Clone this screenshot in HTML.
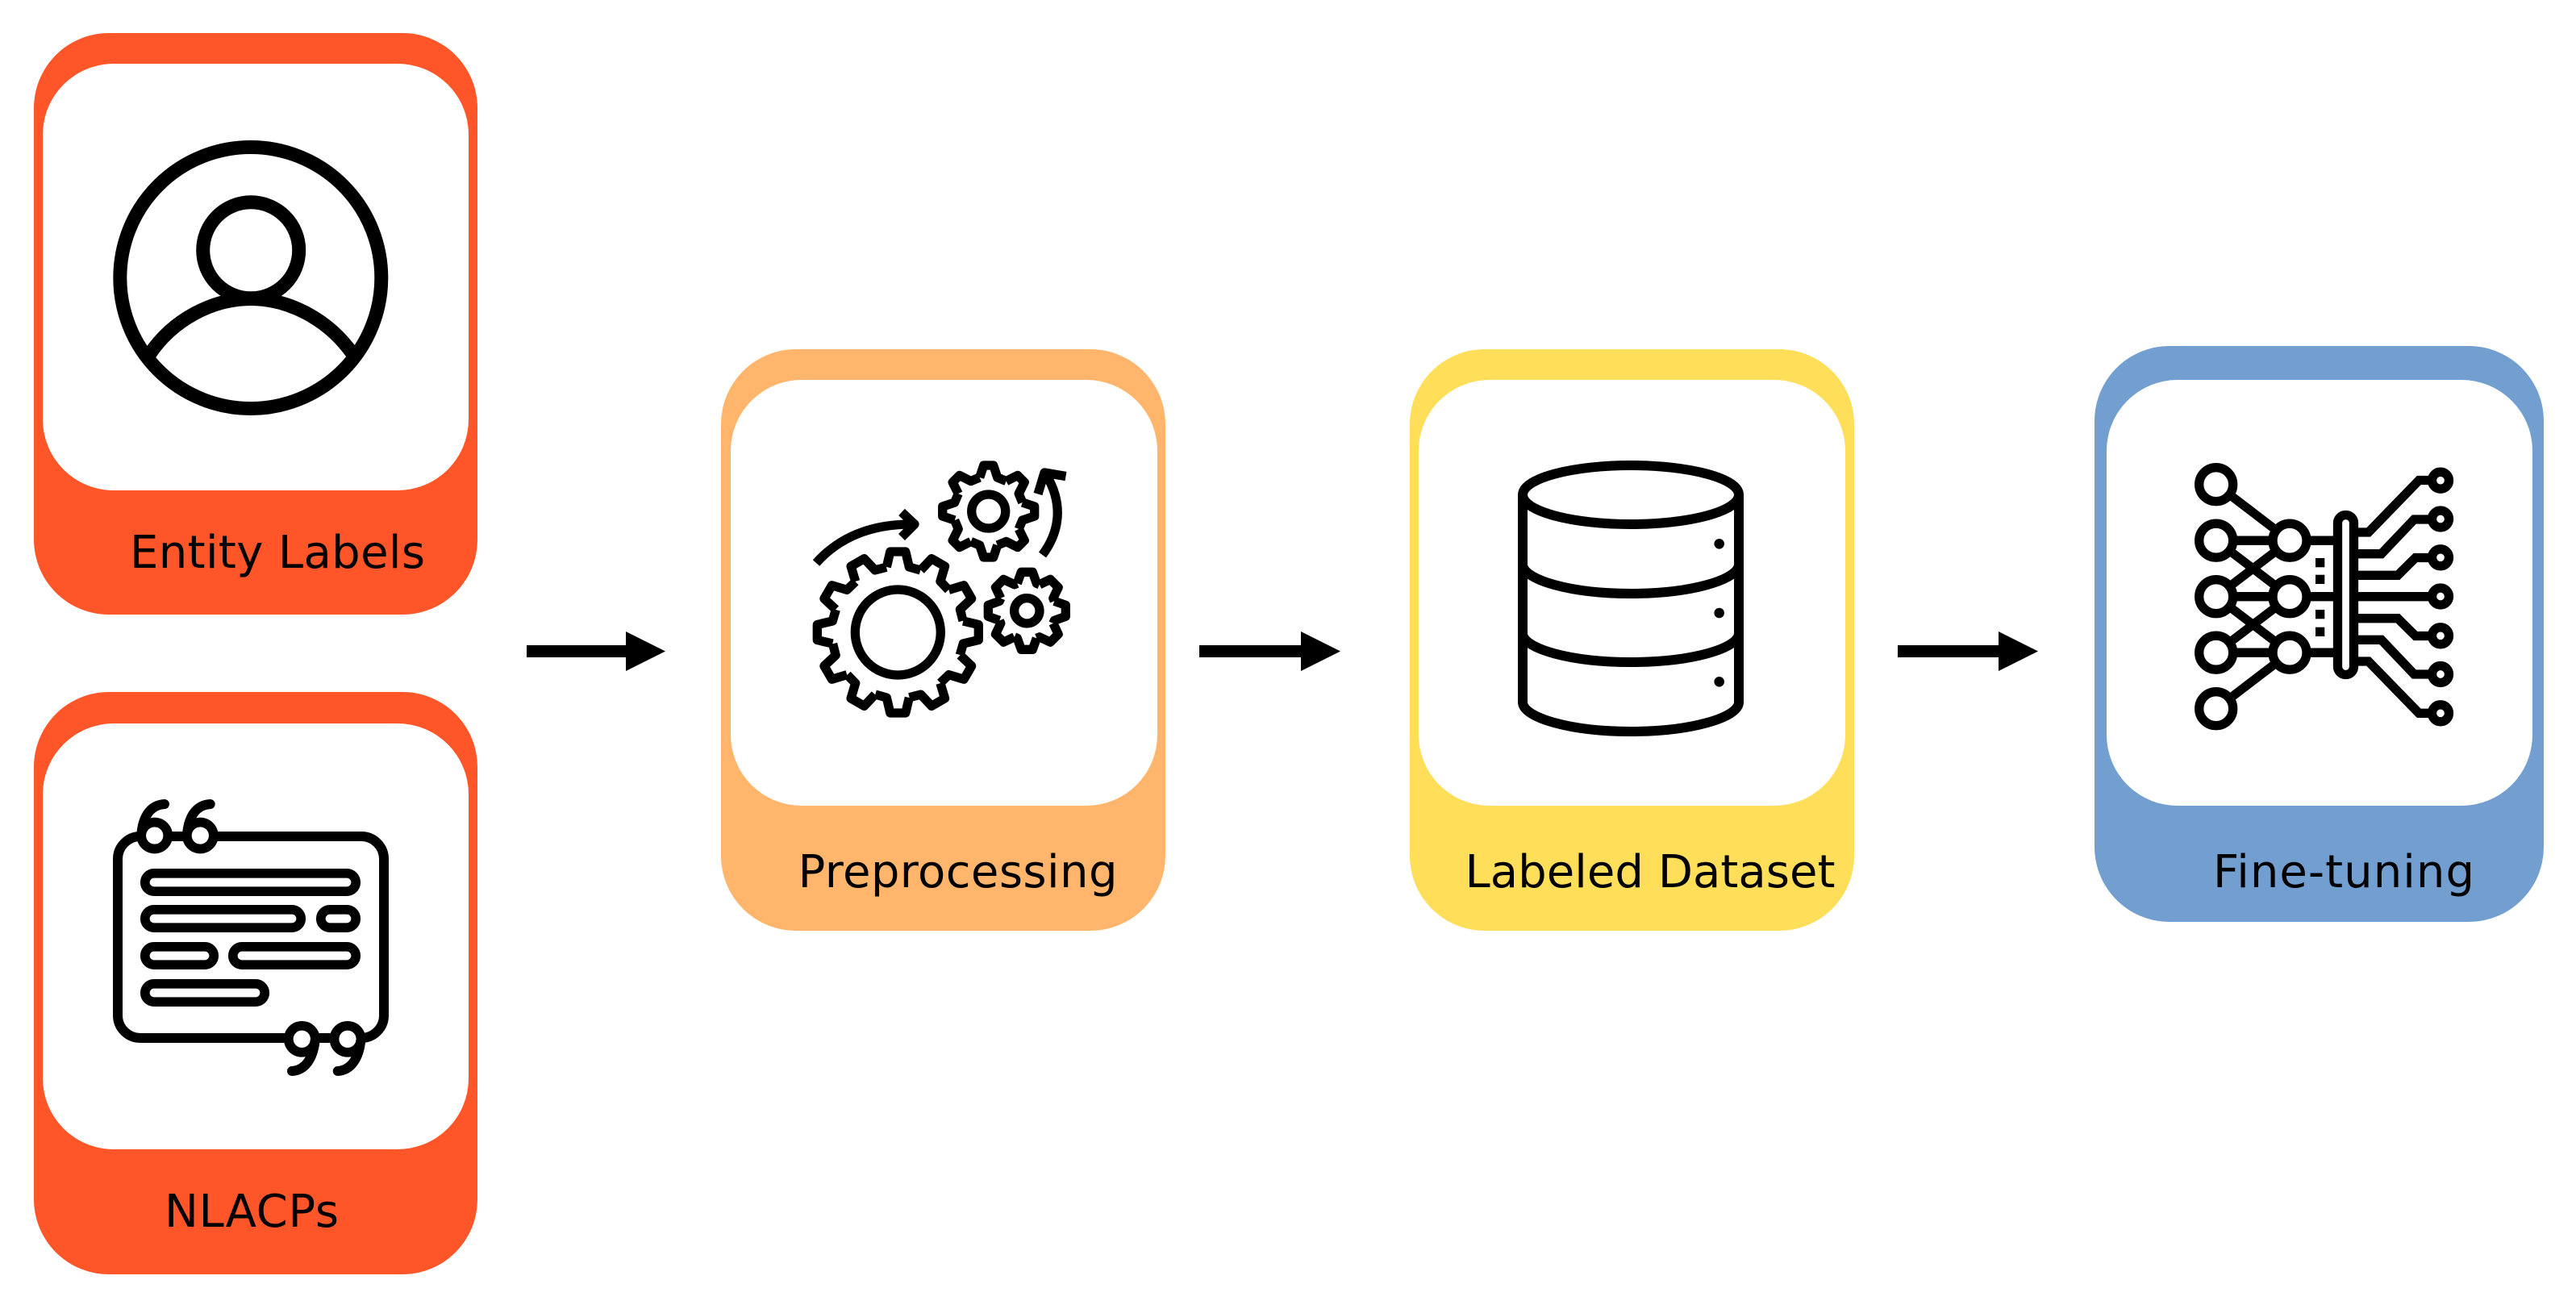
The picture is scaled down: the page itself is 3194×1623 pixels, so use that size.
<!DOCTYPE html>
<html><head><meta charset="utf-8"><style>
html,body{margin:0;padding:0;background:#fff}
svg{display:block}
text{font-family:"DejaVu Sans","Liberation Sans",sans-serif;font-size:56px;fill:#000}
</style></head><body>
<svg xmlns="http://www.w3.org/2000/svg" width="3194" height="1623" viewBox="0 0 3194 1623">
<defs>
<path id="t1" d="M-14 -81L-9.5 -100L9.5 -100L14 -81L28 -77"/>
<path id="t2" d="M-11 -42L-6 -57L6 -57L11 -42L21.9 -37.5"/>
<path id="t3" d="M-12 -34L-7 -48L7 -48L12 -34L15.5 -32.5"/>
</defs>
<rect width="3194" height="1623" fill="#fff"/>

<!-- Cards -->
<rect x="42" y="41" width="550" height="721" rx="93" fill="#FF5629"/>
<rect x="53" y="79" width="528" height="529" rx="88" fill="#fff"/>
<rect x="42" y="858" width="550" height="722" rx="93" fill="#FF5629"/>
<rect x="53" y="897" width="528" height="528" rx="88" fill="#fff"/>
<rect x="894" y="433" width="551" height="721" rx="93" fill="#FFB66C"/>
<rect x="906" y="471" width="529" height="528" rx="88" fill="#fff"/>
<rect x="1748" y="433" width="551" height="721" rx="93" fill="#FFDE59"/>
<rect x="1759" y="471" width="529" height="528" rx="88" fill="#fff"/>
<rect x="2597" y="429" width="557" height="714" rx="93" fill="#729FCF"/>
<rect x="2612" y="471" width="528" height="528" rx="88" fill="#fff"/>

<!-- Labels -->
<text x="161" y="704" textLength="366" lengthAdjust="spacing">Entity Labels</text>
<text x="204" y="1521" textLength="216" lengthAdjust="spacing">NLACPs</text>
<text x="989.5" y="1100" textLength="396" lengthAdjust="spacing">Preprocessing</text>
<text x="1816.5" y="1100" textLength="459" lengthAdjust="spacing">Labeled Dataset</text>
<text x="2744" y="1100" textLength="324" lengthAdjust="spacing">Fine-tuning</text>

<!-- Flow arrows -->
<g fill="#000">
<path d="M653 800H776V783L825 807.5L776 832V815H653Z"/>
<path d="M1487 800H1613V783L1662 807.5L1613 832V815H1487Z"/>
<path d="M2353 800H2478V783L2527 807.5L2478 832V815H2353Z"/>
</g>

<g fill="none" stroke="#000">
<!-- User icon -->
<circle cx="310.8" cy="344.5" r="162" stroke-width="17"/>
<circle cx="311.2" cy="310.3" r="59.5" stroke-width="17"/>
<path d="M185 440C215 395 265 370.5 311 370.5S407 395 438 440" stroke-width="17"/>

<!-- Quote icon -->
<rect x="146" y="1037" width="330" height="250" rx="28" stroke-width="12"/>
<g stroke-width="11.7">
<rect x="179.8" y="1082.8" width="261.4" height="22.4" rx="11.2"/>
<rect x="179.8" y="1127.8" width="193.4" height="22.4" rx="11.2"/>
<rect x="397.8" y="1127.8" width="43.4" height="22.4" rx="11.2"/>
<rect x="179.8" y="1173.8" width="85.4" height="22.4" rx="11.2"/>
<rect x="288.8" y="1173.8" width="152.4" height="22.4" rx="11.2"/>
<rect x="179.8" y="1219.8" width="148.4" height="22.4" rx="11.2"/>
<g fill="#fff">
<circle cx="191.7" cy="1036" r="16.5"/><circle cx="248.3" cy="1036" r="16.5"/>
<circle cx="374.3" cy="1288.3" r="16.5"/><circle cx="431" cy="1288.3" r="16.5"/>
</g>
<g stroke-linecap="round" stroke-width="12">
<path d="M175.5 1032C178 1010 188 998 204 997"/>
<path d="M232.2 1032C234.7 1010 244.7 998 260.7 997"/>
<path d="M390.5 1291C388 1313 378 1327 362 1328"/>
<path d="M447.2 1291C444.7 1313 434.7 1327 418.7 1328"/>
</g>
</g>

<!-- Gears -->
<g stroke-width="11.3" stroke-linejoin="round">
<g transform="translate(1113.3 784)">
<use href="#t1"/><use href="#t1" transform="rotate(30)"/><use href="#t1" transform="rotate(60)"/><use href="#t1" transform="rotate(90)"/>
<use href="#t1" transform="rotate(120)"/><use href="#t1" transform="rotate(150)"/><use href="#t1" transform="rotate(180)"/><use href="#t1" transform="rotate(210)"/>
<use href="#t1" transform="rotate(240)"/><use href="#t1" transform="rotate(270)"/><use href="#t1" transform="rotate(300)"/><use href="#t1" transform="rotate(330)"/>
<circle r="53"/>
</g>
<g transform="translate(1225.7 634)">
<use href="#t2"/><use href="#t2" transform="rotate(45)"/><use href="#t2" transform="rotate(90)"/><use href="#t2" transform="rotate(135)"/>
<use href="#t2" transform="rotate(180)"/><use href="#t2" transform="rotate(225)"/><use href="#t2" transform="rotate(270)"/><use href="#t2" transform="rotate(315)"/>
<circle r="21"/>
</g>
<g transform="translate(1273.3 757.3)">
<use href="#t3"/><use href="#t3" transform="rotate(45)"/><use href="#t3" transform="rotate(90)"/><use href="#t3" transform="rotate(135)"/>
<use href="#t3" transform="rotate(180)"/><use href="#t3" transform="rotate(225)"/><use href="#t3" transform="rotate(270)"/><use href="#t3" transform="rotate(315)"/>
<circle r="15.7"/>
</g>
<path d="M1012 698Q1055 650 1130 650"/>
<path d="M1118 635L1134 650L1118 666"/>
<path d="M1292.5 688C1312 662 1320 628 1298 590"/>
<path d="M1287 612.5L1295 586L1321.5 590.5"/>
</g>

<!-- Database -->
<g stroke-width="12">
<ellipse cx="2022" cy="613.5" rx="134" ry="36.5"/>
<path d="M1888 613.5V870.5M2156 613.5V870.5"/>
<path d="M1888 699.5C1888 719 1948 736 2022 736S2156 719 2156 699.5"/>
<path d="M1888 785C1888 804.5 1948 821 2022 821S2156 804.5 2156 785"/>
<path d="M1888 870.5C1888 890 1948 907 2022 907S2156 890 2156 870.5"/>
</g>
<g fill="#000" stroke="none">
<circle cx="2131.7" cy="674.3" r="6.3"/><circle cx="2131.7" cy="760" r="6.3"/><circle cx="2131.7" cy="845.3" r="6.3"/>
</g>

<!-- Neural network icon -->
<g stroke-width="11">
<path d="M2748 600.7L2839 670.2M2748 670.2L2839 739.7M2748 739.7L2839 670.2M2748 739.7L2839 809.2M2748 809.2L2839 739.7M2748 878.7L2839 809.2"/>
</g>
<g stroke-width="11.3">
<path d="M2748 670.2H2898M2748 739.7H3016M2748 809.2H2898"/>
<path d="M2924 660H2936.7L2999.3 595.5H3016"/>
<path d="M2924 686.7H2952.7L2993.3 644H3016"/>
<path d="M2924 713.3H2973L2995 691.5H3016"/>
<path d="M2924 766.7H2973L2995 788.5H3016"/>
<path d="M2924 793.3H2952.7L2993.3 836H3016"/>
<path d="M2924 820H2936.7L2999.3 884.3H3016"/>
<g fill="#fff">
<circle cx="2747.7" cy="600.7" r="21"/><circle cx="2747.7" cy="670.2" r="21"/><circle cx="2747.7" cy="739.7" r="21"/><circle cx="2747.7" cy="809.2" r="21"/><circle cx="2747.7" cy="878.7" r="21"/>
<circle cx="2839" cy="670.2" r="21"/><circle cx="2839" cy="739.7" r="21"/><circle cx="2839" cy="809.2" r="21"/>
<rect x="2898.5" y="638.5" width="20" height="198" rx="10"/>
<circle cx="3026" cy="595.7" r="10.5"/><circle cx="3026" cy="643.5" r="10.5"/><circle cx="3026" cy="691.3" r="10.5"/><circle cx="3026" cy="739.5" r="10.5"/><circle cx="3026" cy="788.3" r="10.5"/><circle cx="3026" cy="836" r="10.5"/><circle cx="3026" cy="884.3" r="10.5"/>
</g>
</g>
<g fill="#000" stroke="none">
<rect x="2871" y="692" width="11.3" height="11.3"/><rect x="2871" y="712.7" width="11.3" height="11.3"/>
<rect x="2871" y="756" width="11.3" height="11.3"/><rect x="2871" y="777.7" width="11.3" height="11.3"/>
</g>
</g>
</svg>
</body></html>
